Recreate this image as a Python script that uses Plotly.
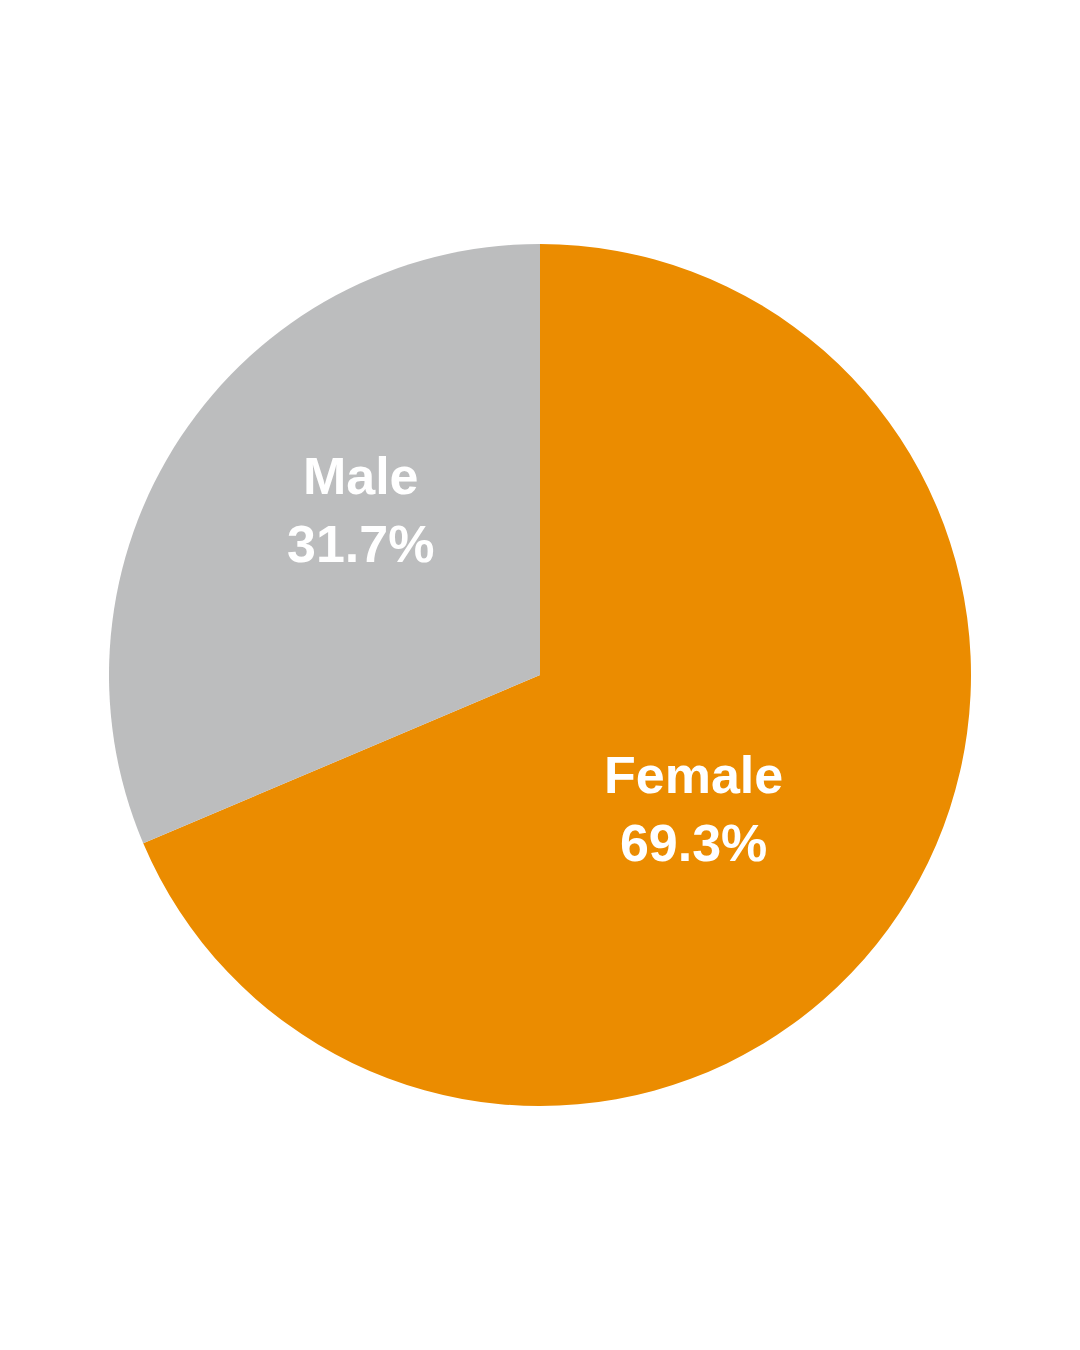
import plotly.graph_objects as go

labels = ["Female", "Male"]
values = [69.3, 31.7]
colors = ["#EB8C00", "#BCBDBE"]
label_x = [0.6775, 0.2915]
label_y = [0.359, 0.674]

fig = go.Figure(go.Pie(
    labels=labels,
    values=values,
    textinfo="none",
    sort=False,
    direction="clockwise",
    rotation=0,
    marker=dict(colors=colors, line=dict(width=0)),
    hoverinfo="label+percent",
    showlegend=False,
))

for l, v, x, y in zip(labels, values, label_x, label_y):
    fig.add_annotation(
        x=x, y=y, xref="paper", yref="paper",
        text=f"{l}<br>{v}%", showarrow=False,
        xanchor="center", yanchor="middle", align="center",
        font=dict(family="Liberation Sans", size=52, color="white", weight="bold"),
    )

fig.update_layout(
    width=1080, height=1350,
    margin=dict(l=109, r=109, t=200, b=200),
    paper_bgcolor="white",
    plot_bgcolor="white",
)

fig.write_html("out.html")
